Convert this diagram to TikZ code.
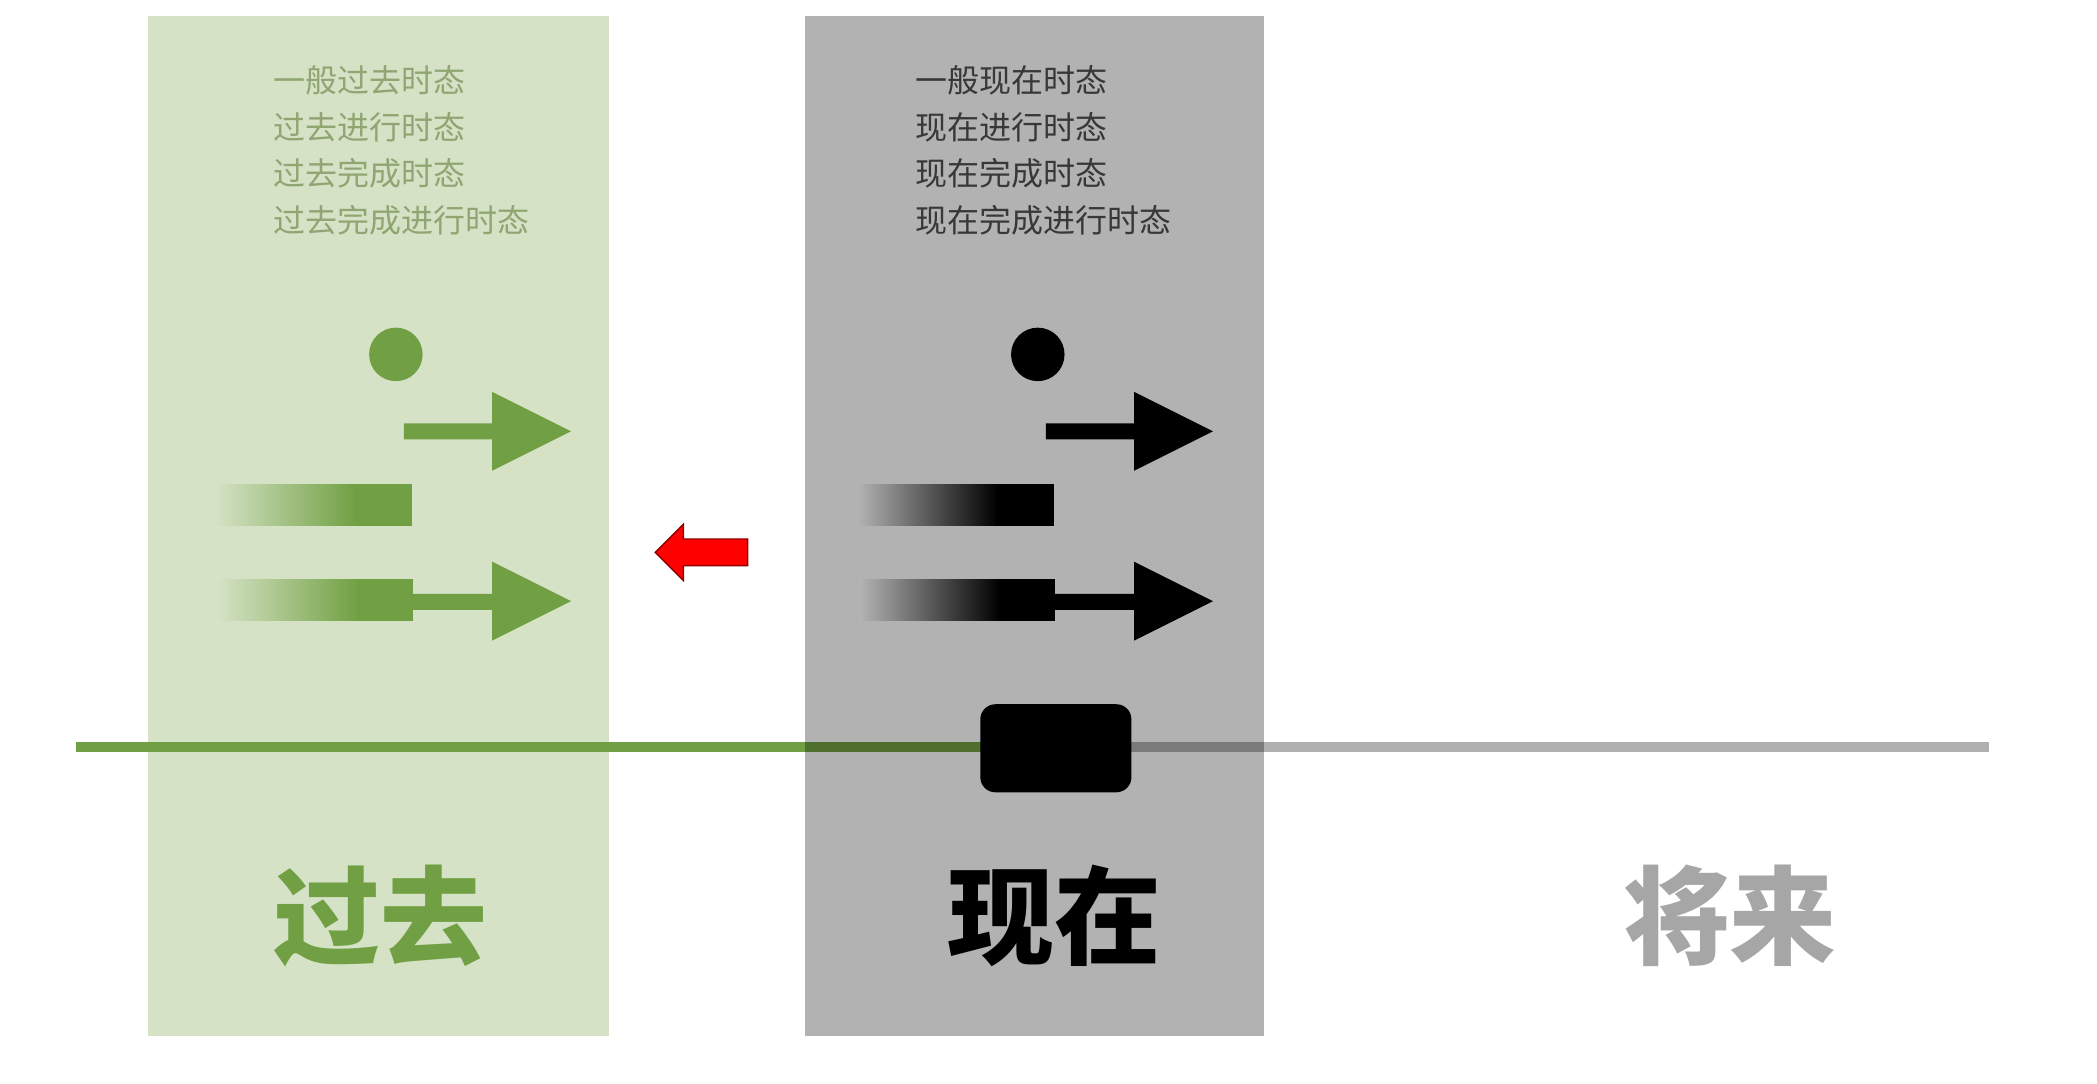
\documentclass[tikz,border=0pt]{standalone}
\usepackage{fontspec}
\newfontfamily\cjk{Noto Sans CJK SC}
\usepackage{xcolor}
\usepackage{tikz}
\usetikzlibrary{shapes.geometric}
\definecolor{pastpanel}{HTML}{D5E2C5}
\definecolor{pastgreen}{HTML}{70A043}
\definecolor{pasttext}{HTML}{8FA673}
\definecolor{nowpanel}{HTML}{B3B3B3}
\definecolor{nowtext}{HTML}{383838}
\definecolor{futuregray}{HTML}{A6A6A6}
\definecolor{lineGray}{HTML}{B0B0B0}
\tikzstyle{tenselist}=[anchor=west, align=left, inner sep=0pt, font=\cjk\fontsize{9.1}{13.3}\selectfont]
\tikzstyle{period}=[inner sep=0pt, font=\cjk\bfseries\fontsize{30.4}{32}\selectfont]
\tikzstyle{timeline}=[line width=0.107cm]
\tikzstyle{nowbox}=[rectangle, rounded corners=0.15cm, fill=black, minimum width=1.51cm, minimum height=0.88cm, inner sep=0pt]

\begin{document}
\begin{tikzpicture}[x=0.013374cm, y=-0.013374cm]
  \useasboundingbox (0,0) rectangle (1568,810);
  \fill[white] (0,0) rectangle (1568,810);
  % past panel
  \fill[pastpanel] (111,12) rectangle (455,775);
  % time line
  \coordinate (start) at (57,558.5);
  \coordinate (boxw) at (740,558.5);
  \coordinate (boxe) at (840,558.5);
  \coordinate (end) at (1487,558.5);
  \draw[timeline, pastgreen] (start) -- (boxw);
  \draw[timeline, lineGray] (boxe) -- (end);
  % now panel
  \fill[black, opacity=0.3] (602,12) rectangle (945,775);
  % tense lists
  \node (pastlist) [tenselist, text=pasttext] at (204,112.5) {一般过去时态\\过去进行时态\\过去完成时态\\过去完成进行时态};
  \node (nowlist) [tenselist, text=nowtext] at (684,112.5) {一般现在时态\\现在进行时态\\现在完成时态\\现在完成进行时态};
  % dots, arrows and bars
  \foreach \dx/\ink/\fadecol in {0/pastgreen/pastpanel, 480/black/nowpanel}{
    \begin{scope}[shift={(\dx,0)}]
      \fill[\ink] (296,265) circle (20);
      \fill[\ink] (302,316.5) -- (368,316.5) -- (368,293) -- (427,322.5) -- (368,352) -- (368,328.5) -- (302,328.5) -- cycle;
      \shade[left color=\fadecol, right color=\ink] (161,362) rectangle (266,393);
      \fill[\ink] (265,362) rectangle (308,393);
      \shade[left color=\fadecol, right color=\ink] (163,433) rectangle (268,464);
      \fill[\ink] (267,433) rectangle (309,464);
      \fill[\ink] (308,444) -- (368,444) -- (368,420) -- (427,449.5) -- (368,479) -- (368,456) -- (308,456) -- cycle;
    \end{scope}
  }
  % red arrow
  \filldraw[fill=red, draw=red!55!black, line width=0.4pt] (490,413) -- (511,392) -- (511,403) -- (559,403) -- (559,423) -- (511,423) -- (511,434) -- cycle;
  % present marker
  \node (now) [nowbox] at (789.5,559.5) {};
  % period labels
  \node (past) [period, text=pastgreen] at (284.5,685) {过去};
  \node (present) [period, text=black] at (788.5,685) {现在};
  \node (future) [period, text=futuregray] at (1293.5,685) {将来};
\end{tikzpicture}
\end{document}
